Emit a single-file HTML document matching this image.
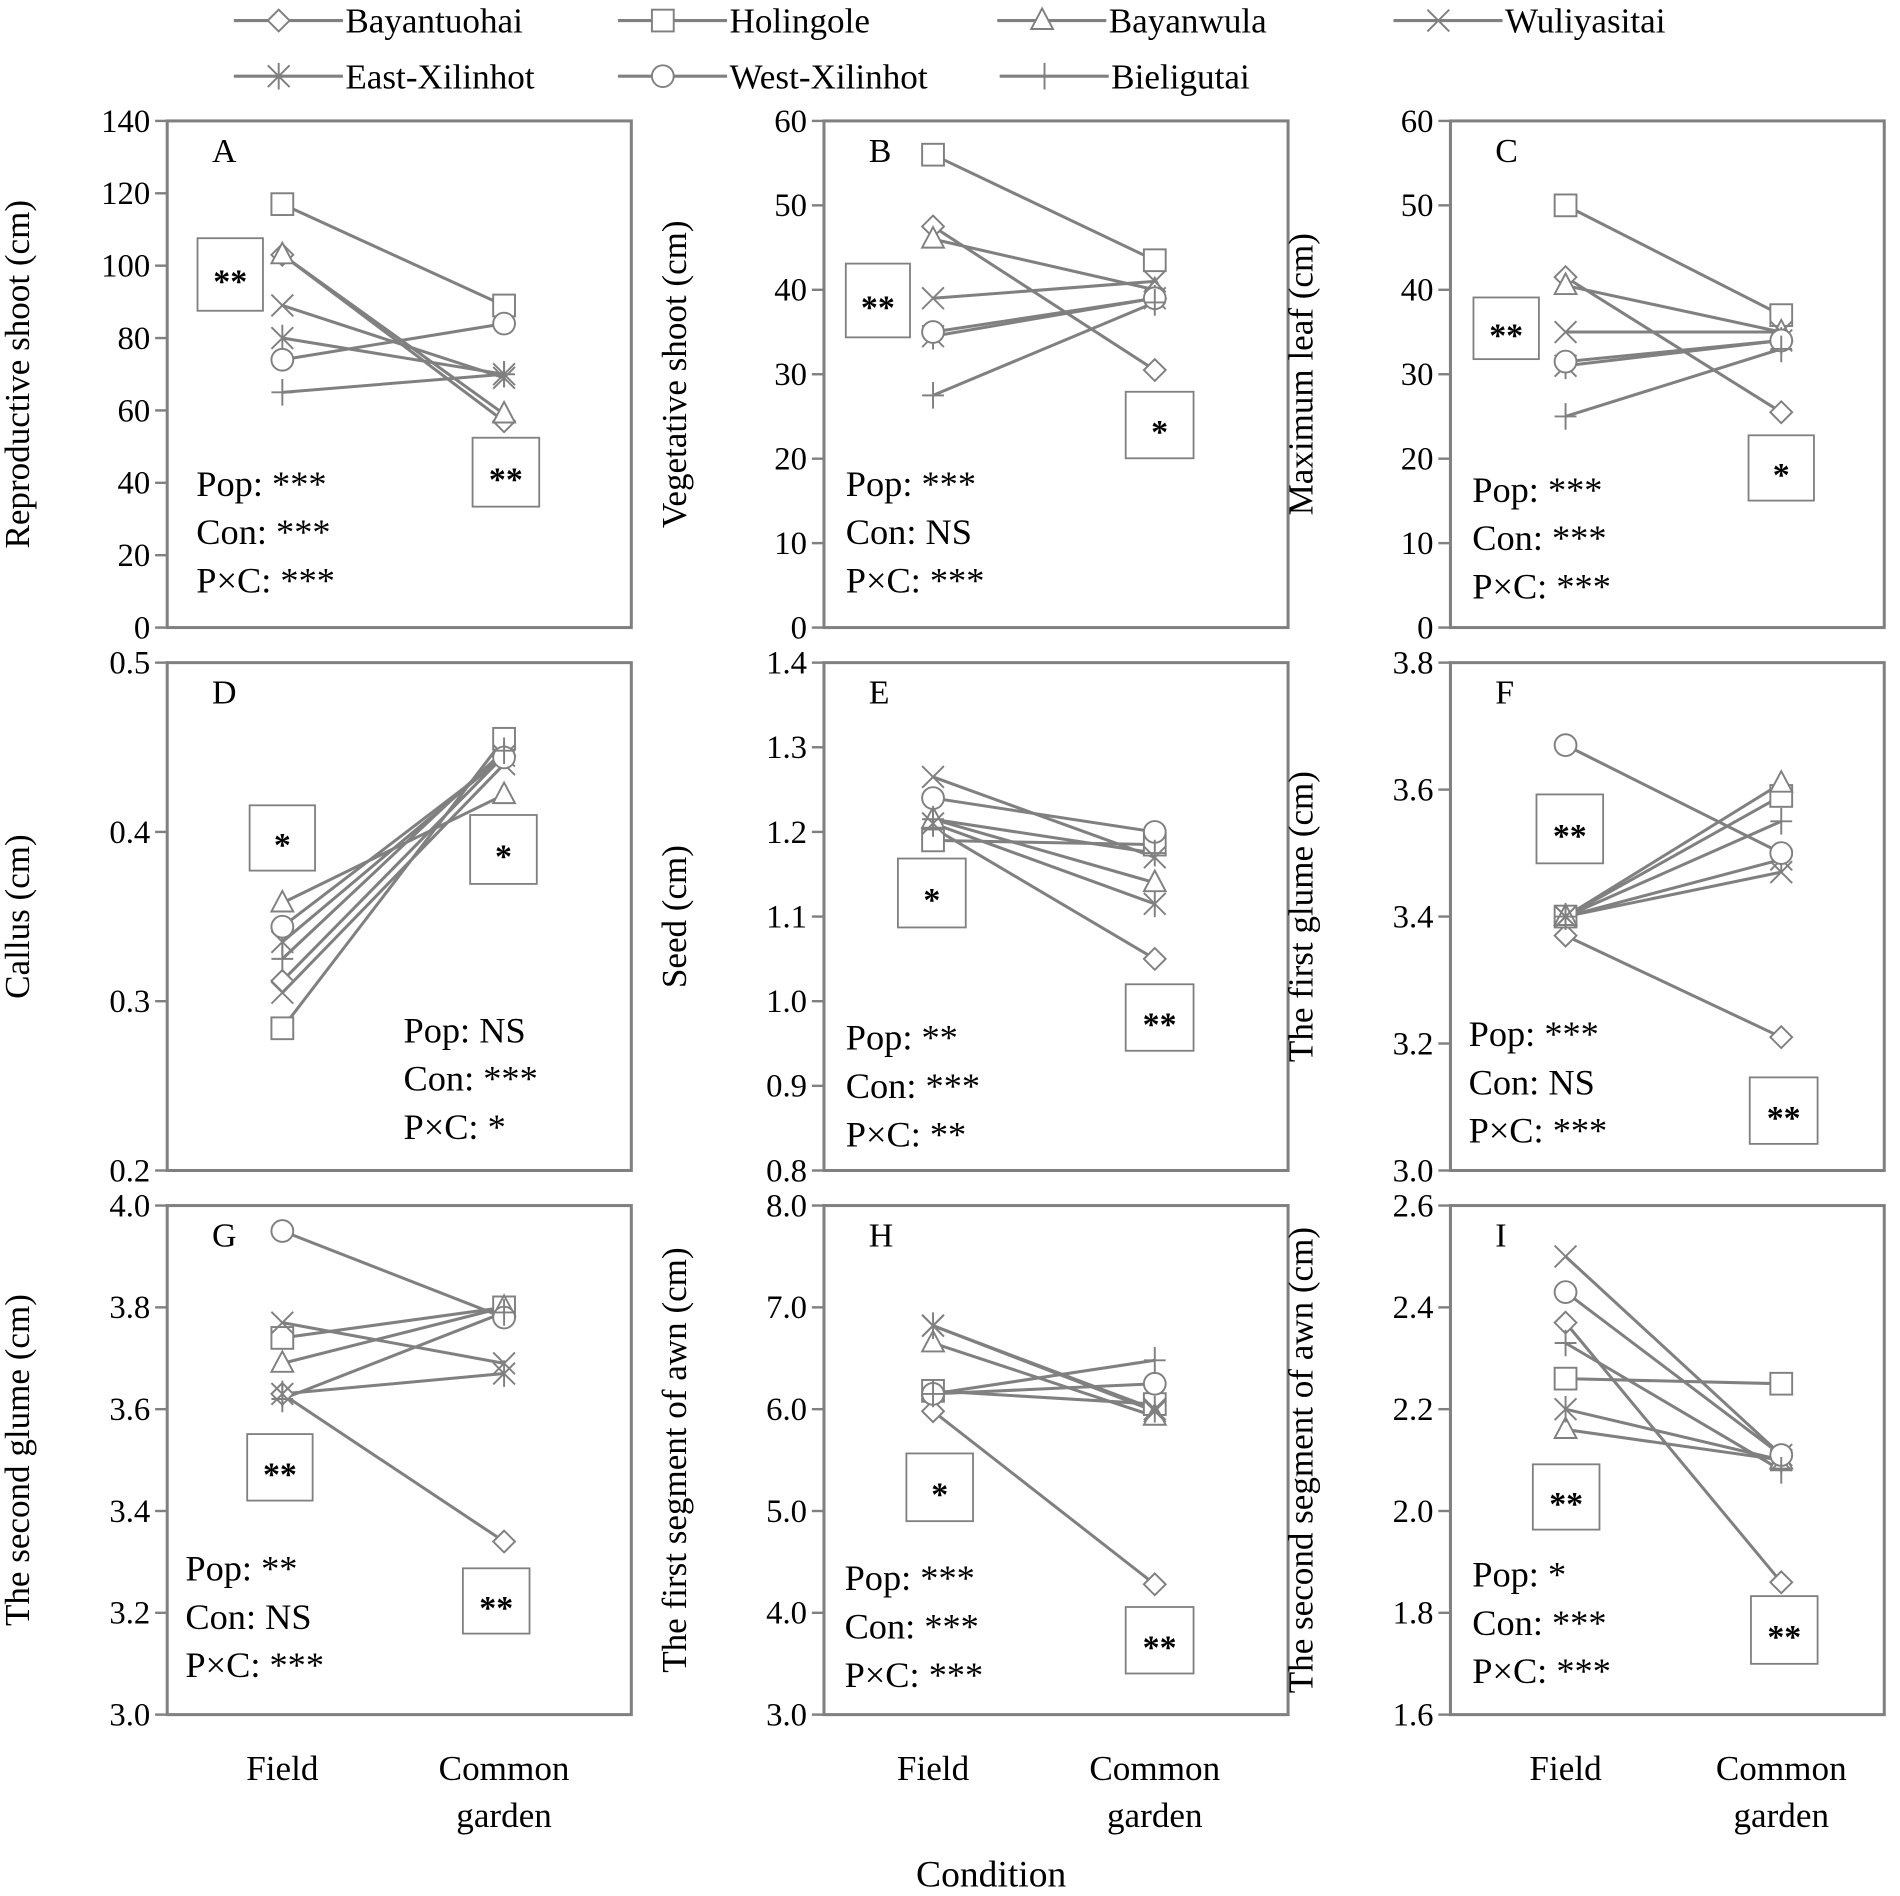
<!DOCTYPE html>
<html><head><meta charset="utf-8"><style>
html,body{margin:0;padding:0;background:#fff;}
svg{display:block;}
text{font-family:"Liberation Serif",serif;fill:#000;}
</style></head><body>
<svg id="s" width="1900" height="1896" viewBox="0 0 1568 1568" preserveAspectRatio="none" xmlns="http://www.w3.org/2000/svg"></svg>
<script>
const S=document.getElementById('s');let h='';
const G='#808080';
function mk(t,x,y){const r=9;let o='';
 const st=`stroke="${G}" stroke-width="1.6" fill="#fff"`;
 if(t==0)o=`<polygon points="${x},${y-r} ${x+r},${y} ${x},${y+r} ${x-r},${y}" ${st}/>`;
 if(t==1)o=`<rect x="${x-r}" y="${y-r}" width="${2*r}" height="${2*r}" ${st}/>`;
 if(t==2)o=`<polygon points="${x},${y-r-1} ${x+r},${y+r-2} ${x-r},${y+r-2}" ${st}/>`;
 if(t==3)o=`<path d="M${x-r} ${y-r}L${x+r} ${y+r}M${x-r} ${y+r}L${x+r} ${y-r}" ${st}/>`;
 if(t==4)o=`<path d="M${x-r} ${y-r}L${x+r} ${y+r}M${x-r} ${y+r}L${x+r} ${y-r}M${x} ${y-r-2}L${x} ${y+r+2}" ${st}/>`;
 if(t==5)o=`<circle cx="${x}" cy="${y}" r="${r}" ${st}/>`;
 if(t==6)o=`<path d="M${x-r} ${y}L${x+r} ${y}M${x} ${y-r-2}L${x} ${y+r+2}" ${st}/>`;
 return o;}
const cols=[[138,521,233,416],[680,1063,770,953],[1197,1555,1292,1470]];
const rows=[[100,519],[548,968],[997,1418]];
const P=[
 ['A',0,140,20,0,'Reproductive shoot (cm)',[[103,57],[117,89],[103,59],[89,69],[80,70],[74,84],[65,70]],[[163,197,54,60,'**'],[390,362,55,57,'**']],[162,400,['Pop: ***','Con: ***','P×C: ***']]],
 ['B',0,60,10,0,'Vegetative shoot (cm)',[[47.5,30.5],[56,43.5],[46,40],[39,41],[34.5,39],[35,39],[27.5,38.5]],[[698,218,53,61,'**'],[929,324,56,55,'*']],[698,400,['Pop: ***','Con: NS','P×C: ***']]],
 ['C',0,60,10,0,'Maximum leaf (cm)',[[41.5,25.5],[50,37],[40.5,35],[35,35],[31,34],[31.5,34],[25,33]],[[1216,246,54,51,'**'],[1443,360,54,54,'*']],[1215,405,['Pop: ***','Con: ***','P×C: ***']]],
 ['D',0.2,0.5,0.1,1,'Callus (cm)',[[0.312,0.445],[0.284,0.455],[0.358,0.422],[0.305,0.44],[0.335,0.445],[0.344,0.444],[0.325,0.448]],[[206,666,54,54,'*'],[388,674,55,57,'*']],[333,852,['Pop: NS','Con: ***','P×C: *']]],
 ['E',0.8,1.4,0.1,1,'Seed (cm)',[[1.205,1.05],[1.19,1.185],[1.215,1.14],[1.265,1.17],[1.21,1.115],[1.24,1.2],[1.215,1.175]],[[741,710,56,57,'*'],[929,814,56,55,'**']],[698,858,['Pop: **','Con: ***','P×C: **']]],
 ['F',3.0,3.8,0.2,1,'The first glume (cm)',[[3.37,3.21],[3.40,3.59],[3.40,3.61],[3.40,3.47],[3.40,3.49],[3.67,3.50],[3.40,3.55]],[[1268,657,55,57,'**'],[1444,891,56,55,'**']],[1212,855,['Pop: ***','Con: NS','P×C: ***']]],
 ['G',3.0,4.0,0.2,1,'The second glume (cm)',[[3.63,3.34],[3.74,3.80],[3.69,3.80],[3.77,3.69],[3.63,3.67],[3.95,3.78],[3.62,3.79]],[[204,1186,54,55,'**'],[382,1297,55,54,'**']],[153,1297,['Pop: **','Con: NS','P×C: ***']]],
 ['H',3.0,8.0,1.0,1,'The first segment of awn (cm)',[[5.98,4.28],[6.18,6.05],[6.65,5.93],[6.82,5.98],[6.82,6.0],[6.15,6.25],[6.15,6.48]],[[748,1202,55,56,'*'],[929,1329,56,55,'**']],[697,1305,['Pop: ***','Con: ***','P×C: ***']]],
 ['I',1.6,2.6,0.2,1,'The second segment of awn (cm)',[[2.37,1.86],[2.26,2.25],[2.16,2.10],[2.50,2.11],[2.20,2.10],[2.43,2.11],[2.33,2.08]],[[1265,1211,55,54,'**'],[1445,1320,55,56,'**']],[1215,1302,['Pop: *','Con: ***','P×C: ***']]]
];
P.forEach((p,i)=>{const [x0,x1,fx,cx]=cols[i%3];const [y0,y1]=rows[Math.floor(i/3)];
 const [L,mn,mx,st,dec,title,data,boxes,stats]=p;
 const Y=v=>y1-(v-mn)/(mx-mn)*(y1-y0);
 h+=`<rect x="${x0}" y="${y0}" width="${x1-x0}" height="${y1-y0}" fill="none" stroke="${G}" stroke-width="2.5"/>`;
 const n=Math.round((mx-mn)/st);
 for(let k=0;k<=n;k++){const v=mn+k*st,y=Y(v);
  h+=`<line x1="${x0-10}" y1="${y}" x2="${x0}" y2="${y}" stroke="${G}" stroke-width="2"/>`;
  h+=`<text x="${x0-14}" y="${y+9}" font-size="27" text-anchor="end">${v.toFixed(dec)}</text>`;}
 h+=`<text transform="translate(${x0-114},${(y0+y1)/2}) rotate(-90)" font-size="29" text-anchor="middle">${title}</text>`;
 h+=`<text x="${x0+37}" y="${y0+34}" font-size="28">${L}</text>`;
 boxes.forEach(b=>{h+=`<rect x="${b[0]}" y="${b[1]}" width="${b[2]}" height="${b[3]}" fill="#fff" stroke="${G}" stroke-width="1.5"/><text x="${b[0]+b[2]/2}" y="${b[1]+b[3]/2+15}" font-size="28" font-weight="bold" text-anchor="middle">${b[4]}</text>`;});
 data.forEach(d=>{h+=`<line x1="${fx}" y1="${Y(d[0])}" x2="${cx}" y2="${Y(d[1])}" stroke="${G}" stroke-width="2.5"/>`;});
 data.forEach((d,t)=>{h+=mk(t,fx,Y(d[0]))+mk(t,cx,Y(d[1]));});
 stats[2].forEach((s,k)=>{h+=`<text x="${stats[0]}" y="${stats[1]+k*40+10}" font-size="30">${s}</text>`;});
 if(i>=6){h+=`<text x="${fx}" y="1472" font-size="29" text-anchor="middle">Field</text><text x="${cx}" y="1472" font-size="29" text-anchor="middle">Common</text><text x="${cx}" y="1511" font-size="29" text-anchor="middle">garden</text>`;}
});
h+=`<text x="818" y="1560" font-size="31" text-anchor="middle">Condition</text>`;
const leg=[[193,17,'Bayantuohai',0],[510,17,'Holingole',1],[823,17,'Bayanwula',2],[1150,17,'Wuliyasitai',3],[193,63,'East-Xilinhot',4],[510,63,'West-Xilinhot',5],[825,63,'Bieligutai',6]];
leg.forEach(l=>{h+=`<line x1="${l[0]}" y1="${l[1]}" x2="${l[0]+90}" y2="${l[1]}" stroke="${G}" stroke-width="2.5"/>`+mk(l[3],l[0]+37,l[1])+`<text x="${l[0]+92}" y="${l[1]+10}" font-size="29">${l[2]}</text>`;});
S.innerHTML=h;
</script>
</body></html>
